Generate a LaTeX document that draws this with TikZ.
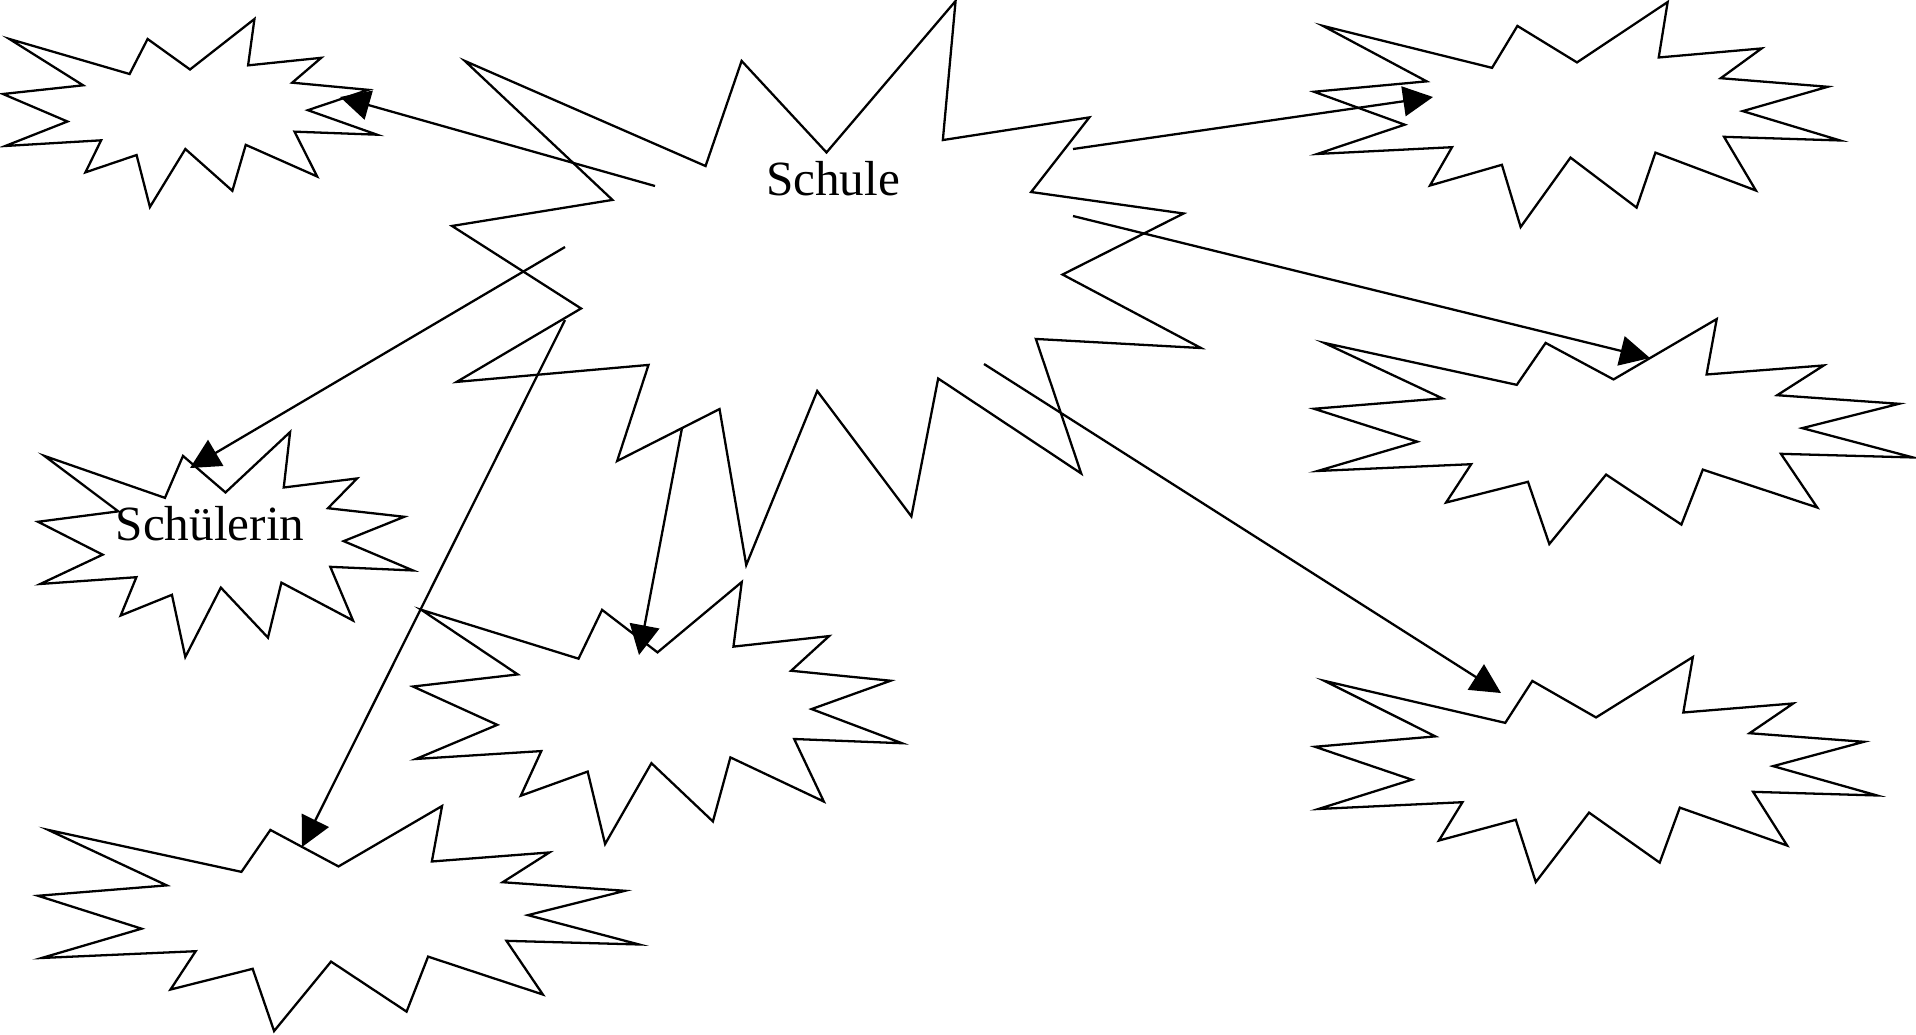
\documentclass[tikz,border=0pt]{standalone}
\usepackage{fontspec}
\setmainfont{Liberation Serif}
\usetikzlibrary{arrows.meta}

\tikzset{
  burstline/.style={line width=0.65pt},
  link/.style={line width=0.65pt, -{Triangle[length=8.5pt,width=8.5pt]}},
  word/.style={font=\fontsize{14}{16}\selectfont, inner sep=0pt, anchor=base}
}

% #1,#2 = top left corner, #3 = width, #4 = height (in px)
\newcommand{\burst}[4]{%
  \draw[burstline, shift={(#1,#2)}, xscale=#3/216, yscale=#4/216]
    (108,58) -- (145.22,0) -- (141.55,53.25) -- (183.8,44.57) -- (167.02,73.15)
    -- (210.97,81.37) -- (176.07,104.75) -- (216,132.9) -- (168.37,129.42)
    -- (181.45,180.95) -- (140.2,144.57) -- (132.47,197.37) -- (105.32,149.35)
    -- (84.85,216) -- (77.15,156.27) -- (47.62,176.17) -- (56.67,139.37)
    -- (1.35,145.87) -- (37.22,117.75) -- (0,86.15) -- (46.27,76.17)
    -- (3.7,22.95) -- (73.12,63.2) -- (83.52,22.95) -- cycle;}

\begin{document}
\begin{tikzpicture}[x=0.1mm, y=-0.1mm]
  \useasboundingbox (0,0) rectangle (1916,1034);
  \foreach \x/\y/\w/\h in {3/19/374/188, 452/1/749/564, 1314/2/526/225,
      1314/319/599/225, 1315/657/562/225, 38/432/375/225, 413/582/489/262,
      38/806/601/225}
    \burst{\x}{\y}{\w}{\h};
  \node[word] (schule) at (833,195) {Schule};
  \node[word] (schuelerin) at (210,540) {Schülerin};
  \coordinate (s1) at (655,186);  \coordinate (t1) at (340,97);
  \coordinate (s2) at (565,247);  \coordinate (t2) at (190,468);
  \coordinate (s3) at (565,320);  \coordinate (t3) at (302,847);
  \coordinate (s4) at (682,428);  \coordinate (t4) at (639,655);
  \coordinate (s5) at (1073,149); \coordinate (t5) at (1433,97);
  \coordinate (s6) at (1073,216); \coordinate (t6) at (1650,358);
  \coordinate (s7) at (984,364);  \coordinate (t7) at (1501,693);
  \foreach \i in {1,...,7}
    \draw[link] (s\i) -- (t\i);
\end{tikzpicture}
\end{document}
